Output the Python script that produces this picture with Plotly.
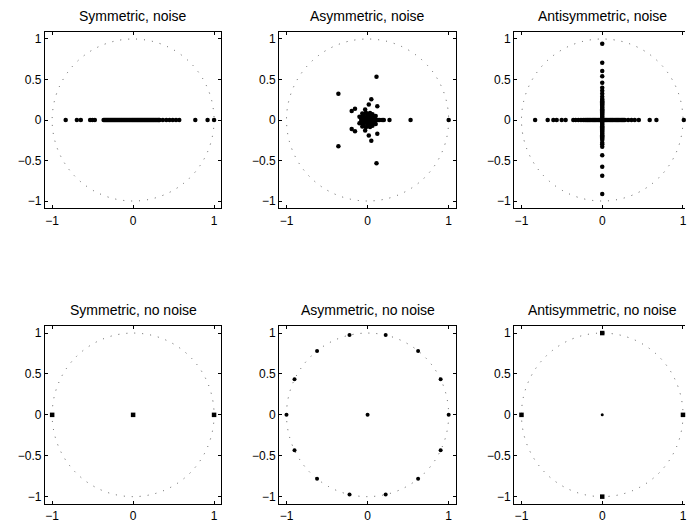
import plotly.graph_objects as go

W, H = 687, 524

# ---------------- data ----------------
titles = ["Symmetric, noise", "Asymmetric, noise", "Antisymmetric, noise",
          "Symmetric, no noise", "Asymmetric, no noise", "Antisymmetric, no noise"]

x_ticks = [-1, 0, 1]
x_tick_text = ["\u22121", "0", "1"]
y_ticks = [-1, -0.5, 0, 0.5, 1]
y_tick_text = ["\u22121", "\u22120.5", "0", "0.5", "1"]

unit_radius = 1.0

# Symmetric, noise (real eigenvalues)
sym_noise_re = [-0.833, -0.695, -0.646, -0.531, -0.502, -0.473,
                -0.364, -0.352, -0.34, -0.328, -0.316, -0.304, -0.292, -0.28, -0.268,
                -0.256, -0.244, -0.232, -0.22, -0.208, -0.196, -0.184, -0.172, -0.16,
                -0.148, -0.136, -0.124, -0.112, -0.1, -0.088, -0.076, -0.064, -0.052,
                -0.04, -0.028, -0.016, -0.004, 0.008, 0.02, 0.032, 0.044, 0.056, 0.068,
                0.08, 0.092, 0.104, 0.116, 0.128, 0.14, 0.152, 0.164, 0.176, 0.188,
                0.2, 0.212, 0.224, 0.236, 0.248, 0.26, 0.272, 0.284, 0.296, 0.308,
                0.318, 0.327,
                0.367, 0.41, 0.45, 0.49, 0.53, 0.57, 0.768, 0.92, 1.0]
sym_noise_im = [0.0] * len(sym_noise_re)

# Asymmetric, noise (complex eigenvalues)
asym_noise_re = [0.11, 0.11, -0.36, -0.36, 0.046, 0.046, 0.015, 0.015, 0.12, 0.12,
                 -0.155, -0.155, -0.196, -0.196, -0.03, -0.03, 0.18, 0.2, 0.27, 0.53, 1.0,
                 -0.065, -0.065, -0.1, -0.1, -0.08, -0.08, 0.1, 0.1, 0.085, 0.085,
                 -0.05, -0.05, -0.02, -0.02, 0.0, 0.0, 0.03, 0.03, 0.06, 0.06,
                 -0.07, -0.04, -0.01, 0.02, 0.05, 0.08, 0.11, 0.13, 0.15,
                 -0.03, -0.03, 0.01, 0.01, 0.04, 0.04, 0.07, 0.07, -0.06, -0.06,
                 0.02, 0.02, -0.01, -0.01, 0.05, 0.05]
asym_noise_im = [0.535, -0.535, 0.325, -0.325, 0.255, -0.255, 0.19, -0.19, 0.17, -0.17,
                 0.14, -0.14, 0.11, -0.11, 0.13, -0.13, 0.0, 0.0, 0.0, 0.0, 0.0,
                 0.08, -0.08, 0.04, -0.04, 0.02, -0.02, 0.05, -0.05, 0.025, -0.025,
                 0.07, -0.07, 0.09, -0.09, 0.06, -0.06, 0.085, -0.085, 0.07, -0.07,
                 0.0, 0.0, 0.0, 0.0, 0.0, 0.0, 0.0, 0.0, 0.0,
                 0.035, -0.035, 0.03, -0.03, 0.04, -0.04, 0.03, -0.03, 0.05, -0.05,
                 0.055, -0.055, 0.015, -0.015, 0.015, -0.015]

# Antisymmetric, noise: real-axis part and imaginary-axis part
anti_noise_re = [-0.831, -0.675, -0.605, -0.564, -0.502, -0.453, -0.358, -0.329, -0.296,
                 -0.263, -0.235, -0.214, -0.2, -0.185, -0.17, -0.155, -0.14, -0.125,
                 -0.11, -0.095, -0.08, -0.065, -0.05, -0.035, -0.02, -0.005, 0.01, 0.025,
                 0.04, 0.055, 0.07, 0.085, 0.1, 0.115, 0.13, 0.145, 0.16, 0.175, 0.19,
                 0.205, 0.22, 0.235, 0.25, 0.265, 0.28, 0.321, 0.362, 0.403, 0.453,
                 0.588, 0.671, 1.01]
anti_noise_re_im = [0.0] * len(anti_noise_re)
anti_noise_im = [0.942, 0.708, 0.605, 0.539, 0.461, 0.399, 0.362, 0.325, 0.288, 0.259,
                 0.247, 0.232, 0.218, 0.204, 0.19, 0.176, 0.162, 0.148, 0.134, 0.12,
                 0.106, 0.092, 0.078, 0.064, 0.05, 0.036, 0.022, 0.008, -0.006, -0.02,
                 -0.034, -0.048, -0.062, -0.076, -0.09, -0.104, -0.118, -0.132, -0.146,
                 -0.16, -0.174, -0.188, -0.202, -0.216, -0.23, -0.247, -0.28, -0.3,
                 -0.33, -0.436, -0.576, -0.687, -0.914]
anti_noise_im_re = [0.0] * len(anti_noise_im)

# Symmetric, no noise
sym_clean_re = [-1.0, 0.0, 1.0]
sym_clean_im = [0.0, 0.0, 0.0]

# Asymmetric, no noise
asym_clean_re = [1.0, 0.901, 0.623, 0.223, -0.223, -0.623, -0.901, -1.0,
                 -0.901, -0.623, -0.223, 0.223, 0.623, 0.901, 0.0]
asym_clean_im = [0.0, 0.434, 0.782, 0.975, 0.975, 0.782, 0.434, 0.0,
                 -0.434, -0.782, -0.975, -0.975, -0.782, -0.434, 0.0]

# Antisymmetric, no noise
anti_clean_re = [0.0, 0.0, -1.0, 1.0]
anti_clean_im = [1.0, -1.0, 0.0, 0.0]
anti_center_re = [0.0]
anti_center_im = [0.0]

# ---------------- layout geometry ----------------
col_px = [(45, 222), (280, 457.3), (515.7, 687)]
row_px = [(31.7, 208.3), (325.7, 504)]
x_ranges = [[-1.09, 1.09], [-1.09, 1.09], [-1.09, 1.025]]
y_range = [-1.09, 1.09]
col3_full_right = 693

FONT = "Liberation Sans, Arial, Helvetica, sans-serif"

fig = go.Figure()
layout = dict(width=W, height=H, autosize=False,
              margin=dict(l=0, r=0, t=0, b=0, pad=0),
              paper_bgcolor="white", plot_bgcolor="white",
              showlegend=False, font=dict(family=FONT, size=12, color="black"),
              shapes=[], annotations=[])

for r in range(2):
    for c in range(3):
        i = r * 3 + c + 1
        xs = "" if i == 1 else str(i)
        x0, x1 = col_px[c]
        yt, yb = row_px[r]
        xd = [x0 / W, min(x1 / W, 1.0)]
        yd = [1 - yb / H, 1 - yt / H]
        layout["xaxis" + xs] = dict(domain=xd, range=x_ranges[c], anchor="y" + xs,
                                     tickvals=x_ticks, ticktext=x_tick_text,
                                     ticks="inside", ticklen=3, tickwidth=1, tickcolor="black",
                                     showline=True, linecolor="black", linewidth=1,
                                     mirror="ticks", showgrid=False, zeroline=False,
                                     tickfont=dict(size=12), fixedrange=True,
                                     ticklabelstandoff=1, ticklabeloverflow="allow")
        layout["yaxis" + xs] = dict(domain=yd, range=y_range, anchor="x" + xs,
                                     tickvals=y_ticks, ticktext=y_tick_text,
                                     ticks="inside", ticklen=3, tickwidth=1, tickcolor="black",
                                     showline=True, linecolor="black", linewidth=1,
                                     mirror=("ticks" if c < 2 else False),
                                     showgrid=False, zeroline=False,
                                     tickfont=dict(size=12), fixedrange=True,
                                     ticklabelstandoff=0, ticklabeloverflow="allow")
        layout["shapes"].append(dict(type="circle", xref="x" + xs, yref="y" + xs,
                                     x0=-unit_radius, y0=-unit_radius,
                                     x1=unit_radius, y1=unit_radius,
                                     line=dict(color="#555555", width=1, dash="1px,7px"),
                                     layer="below"))
        cx = (x0 + x1) / 2 if c < 2 else (x0 + col3_full_right) / 2
        layout["annotations"].append(dict(text=titles[i - 1], xref="paper", yref="paper",
                                          x=cx / W, y=yd[1], xanchor="center",
                                          yanchor="bottom", yshift=6, showarrow=False,
                                          font=dict(size=14, family=FONT)))

def add(xv, yv, idx, symbol="circle", size=4.5):
    xs = "" if idx == 1 else str(idx)
    fig.add_trace(go.Scatter(x=xv, y=yv, mode="markers", xaxis="x" + xs, yaxis="y" + xs,
                             marker=dict(color="black", size=size, symbol=symbol,
                                         line=dict(width=0)),
                             hoverinfo="skip", cliponaxis=False))

add(sym_noise_re, sym_noise_im, 1)
add(asym_noise_re, asym_noise_im, 2)
add(anti_noise_re, anti_noise_re_im, 3)
add(anti_noise_im_re, anti_noise_im, 3)
add(sym_clean_re, sym_clean_im, 4, symbol="square", size=4.5)
add(asym_clean_re, asym_clean_im, 5, size=4)
add(anti_clean_re, anti_clean_im, 6, symbol="square", size=4.5)
add(anti_center_re, anti_center_im, 6, size=3)

fig.update_layout(**layout)
fig.write_html("out.html", config={"displayModeBar": False},
               post_script="document.body.style.margin='0';document.body.style.padding='0';")
